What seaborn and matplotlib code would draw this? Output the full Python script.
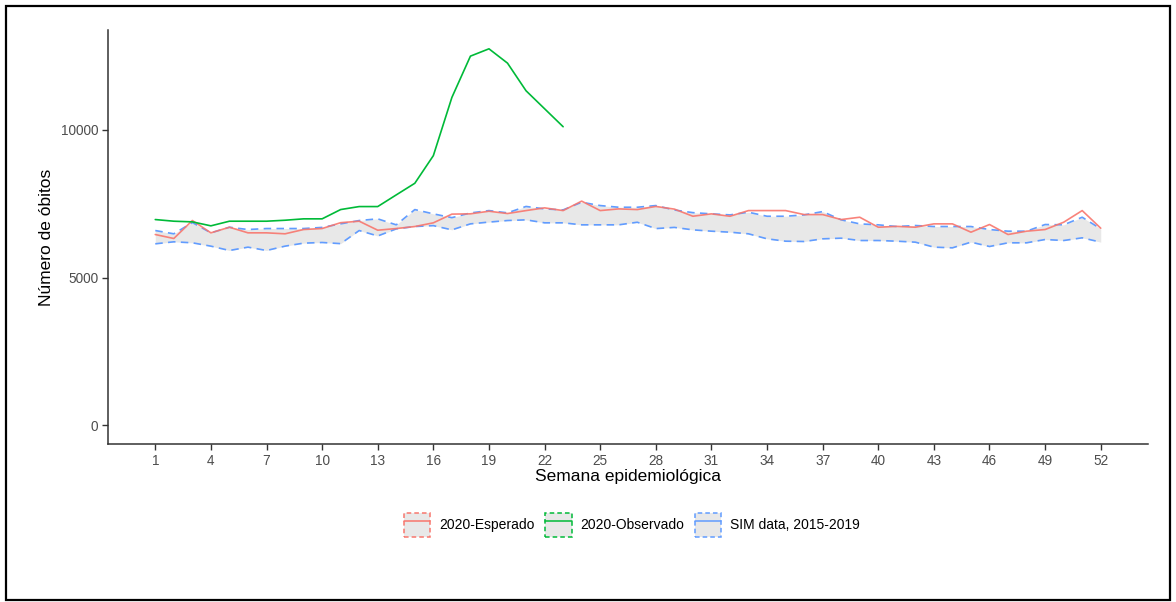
import numpy as np
import pandas as pd
import matplotlib
matplotlib.use("Agg")
import matplotlib.pyplot as plt
from matplotlib.patches import Rectangle, Patch
from matplotlib.lines import Line2D
import seaborn as sns

# ---------------- data ----------------
weeks = list(range(1, 53))
xticks = list(range(1, 53, 3))
yticks = [0, 5000, 10000]

observado = [6966, 6910, 6888, 6753, 6910, 6910, 6910, 6943, 6990, 6990,
             7305, 7406, 7406, 7802, 8195, 9131, 11103, 12502, 12750, 12265,
             11329, 10720, 10111]

esperado = [6459, 6324, 6933, 6516, 6706, 6516, 6516, 6483, 6628, 6662,
            6860, 6910, 6605, 6662, 6730, 6855, 7150, 7160, 7248, 7170,
            7270, 7362, 7270, 7590, 7270, 7327, 7304, 7410, 7320, 7078,
            7159, 7078, 7270, 7270, 7270, 7135, 7135, 6966, 7045, 6706,
            6735, 6706, 6820, 6820, 6538, 6798, 6459, 6572, 6628, 6875,
            7270, 6673]

sim_upper = [6594, 6483, 6865, 6516, 6706, 6628, 6662, 6662, 6662, 6700,
             6820, 6933, 6990, 6787, 7304, 7159, 7030, 7190, 7270, 7193,
             7410, 7327, 7293, 7552, 7440, 7383, 7383, 7440, 7290, 7200,
             7159, 7124, 7214, 7078, 7078, 7124, 7236, 6956, 6820, 6787,
             6730, 6764, 6730, 6730, 6730, 6628, 6572, 6572, 6798, 6787,
             7045, 6650]

sim_lower = [6144, 6212, 6178, 6065, 5918, 6031, 5918, 6065, 6167, 6189,
             6150, 6594, 6410, 6650, 6730, 6760, 6617, 6820, 6880, 6933,
             6956, 6855, 6855, 6787, 6787, 6787, 6875, 6660, 6700, 6617,
             6572, 6538, 6483, 6313, 6233, 6222, 6313, 6335, 6256, 6256,
             6233, 6200, 6031, 6008, 6200, 6053, 6178, 6178, 6290, 6256,
             6347, 6200]

labels = ["2020-Esperado", "2020-Observado", "SIM data, 2015-2019"]
colors = ["#F8766D", "#00BA38", "#619CFF"]

df_exp = pd.DataFrame({"semana": weeks, "obitos": esperado})
df_obs = pd.DataFrame({"semana": weeks[:len(observado)], "obitos": observado})
df_up = pd.DataFrame({"semana": weeks, "obitos": sim_upper})
df_lo = pd.DataFrame({"semana": weeks, "obitos": sim_lower})

# ---------------- style ----------------
sns.set_theme(style="ticks")
plt.rcParams["font.family"] = ["Liberation Sans", "DejaVu Sans"]

W, H = 1176, 602
fig = plt.figure(figsize=(W / 100, H / 100), dpi=100)
ax = fig.add_axes([108 / W, 1 - 444 / H, (1148 - 108) / W, (444 - 30) / H])

# ribbon
ax.fill_between(df_up["semana"], df_lo["obitos"], df_up["obitos"],
                color="#E8E8E8", lw=0, zorder=1)

dash = (4.5, 3.2)
sns.lineplot(data=df_up, x="semana", y="obitos", ax=ax, color=colors[2],
             lw=1.2, zorder=2).lines[-1].set_dashes(dash)
sns.lineplot(data=df_lo, x="semana", y="obitos", ax=ax, color=colors[2],
             lw=1.2, zorder=2).lines[-1].set_dashes(dash)
sns.lineplot(data=df_exp, x="semana", y="obitos", ax=ax, color=colors[0],
             lw=1.2, alpha=0.9, zorder=3)
sns.lineplot(data=df_obs, x="semana", y="obitos", ax=ax, color=colors[1],
             lw=1.2, zorder=4)

# axes limits / ticks
x0, x1 = min(weeks), max(weeks)
xr = x1 - x0
ax.set_xlim(x0 - 0.05 * xr, x1 + 0.05 * xr)
ymax = max(observado)
ax.set_ylim(-0.05 * ymax, 1.05 * ymax)
ax.set_xticks(xticks)
ax.set_xticklabels([str(t) for t in xticks])
ax.set_yticks(yticks)
ax.set_yticklabels([str(t) for t in yticks])

sns.despine(ax=ax)
for s in ["left", "bottom"]:
    ax.spines[s].set_color("#333333")
    ax.spines[s].set_linewidth(1.1)
ax.tick_params(axis="both", length=4, width=1.0, color="#333333",
               labelsize=9.8, labelcolor="#4D4D4D", pad=3)
ax.grid(False)

ax.set_xlabel("Semana epidemiológica", fontsize=12.5, color="black")
ax.set_ylabel("Número de óbitos", fontsize=12.5, color="black")
ax.xaxis.set_label_coords(0.5, (444 - 477) / 414)
ax.xaxis.label.set_va("center")
ax.yaxis.set_label_coords((47 - 108) / 1040, 0.5)
ax.yaxis.label.set_va("center")
ax.yaxis.label.set_ha("center")

# legend
handles = []
for c in colors:
    p = Patch(facecolor="#E8E8E8", edgecolor=c, linestyle=(0, (3, 2)), lw=1.1)
    l = Line2D([], [], color=c, lw=1.1)
    handles.append((p, l))
fig.legend(handles, labels, loc="center", bbox_to_anchor=(632 / W, 1 - 525 / H),
           ncol=3, frameon=False, fontsize=10, handlelength=1.9,
           handleheight=2.3, handletextpad=0.65, columnspacing=0.75,
           borderpad=0, labelcolor="black")

# outer frame
fig.add_artist(Rectangle((6 / W, 2 / H), (1170 - 6) / W, (596 - 2) / H,
                         transform=fig.transFigure, fill=False,
                         ec="black", lw=1.6))

fig.savefig("out.png", dpi=100)
